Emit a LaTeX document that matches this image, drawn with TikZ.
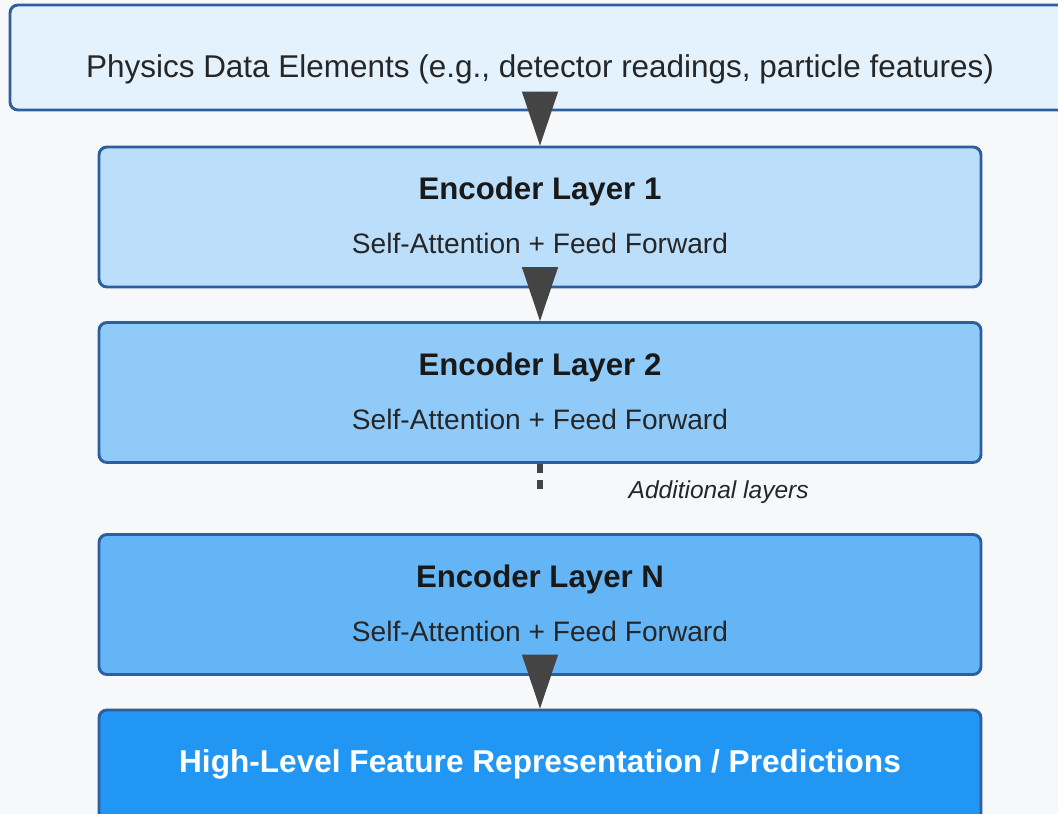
\documentclass[tikz,border=0pt]{standalone}
\usepackage{fontspec}
\setmainfont{Liberation Sans}
\usetikzlibrary{arrows.meta}
\definecolor{bgc}{HTML}{F6F8FA}
\definecolor{edgec}{RGB}{45,95,160}
\definecolor{inputc}{HTML}{E3F2FD}
\definecolor{enc1c}{HTML}{BBDEFB}
\definecolor{enc2c}{HTML}{90CAF9}
\definecolor{encnc}{HTML}{64B5F6}
\definecolor{outc}{HTML}{2196F3}
\definecolor{arrc}{HTML}{444444}
\tikzset{
  layerbox/.style={draw=edgec, line width=2.2pt, rounded corners=6pt,
    minimum width=882*0.75pt, minimum height=140*0.75pt, inner sep=0pt},
  titletext/.style={font=\fontsize{23.4}{28}\selectfont\bfseries, text=black!90},
  subtext/.style={font=\fontsize{21.1}{25}\selectfont, text=black!85},
  flow/.style={draw=arrc, line width=1pt,
    -{Triangle[width=36*0.75pt, length=54*0.75pt]}, fill=arrc},
  gap/.style={draw=arrc, line width=4pt, dash pattern=on 7pt off 5pt},
}
\begin{document}
\begin{tikzpicture}[x=0.75pt, y=-0.75pt]
  \useasboundingbox (0,0) rectangle (1058,814);
  \fill[bgc] (0,0) rectangle (1058,814);

  % input
  \node[draw=edgec, line width=2.2pt, rounded corners=6pt, fill=inputc,
        minimum width=1060*0.75pt, minimum height=105*0.75pt, inner sep=0pt]
        (inp) at (540,57.5) {};
  \node[font=\fontsize{23.6}{28}\selectfont, text=black!85] (inptxt) at (540,69)
        {Physics Data Elements (e.g., detector readings, particle features)};

  % encoder layers
  \node[layerbox, fill=enc1c] (e1) at (540,217) {};
  \node[titletext] (e1t) at (540,191) {Encoder Layer 1};
  \node[subtext] (e1s) at (540,243) {Self-Attention + Feed Forward};

  \node[layerbox, fill=enc2c] (e2) at (540,392.5) {};
  \node[titletext] (e2t) at (540,367) {Encoder Layer 2};
  \node[subtext] (e2s) at (540,419) {Self-Attention + Feed Forward};

  \node[layerbox, fill=encnc] (en) at (540,604.5) {};
  \node[titletext] (ent) at (540,579) {Encoder Layer N};
  \node[subtext] (ens) at (540,631) {Self-Attention + Feed Forward};

  % output
  \node[layerbox, fill=outc] (out) at (540,780) {};
  \node[titletext, text=white, font=\fontsize{23.7}{28}\selectfont\bfseries]
        (outt) at (540,764) {High-Level Feature Representation / Predictions};

  % connectors
  \draw[flow] (e1.north |- inp.south) -- (e1.north);
  \draw[flow] (e1.south) -- (e2.north);
  \coordinate (gapend) at (540,492);
  \draw[gap] (e2.south) -- (gapend);
  \node[font=\fontsize{18.4}{22}\selectfont\itshape, text=black!85, anchor=west]
        (addl) at (624,492) {Additional layers};
  \draw[flow] (en.south) -- (out.north);
\end{tikzpicture}
\end{document}
